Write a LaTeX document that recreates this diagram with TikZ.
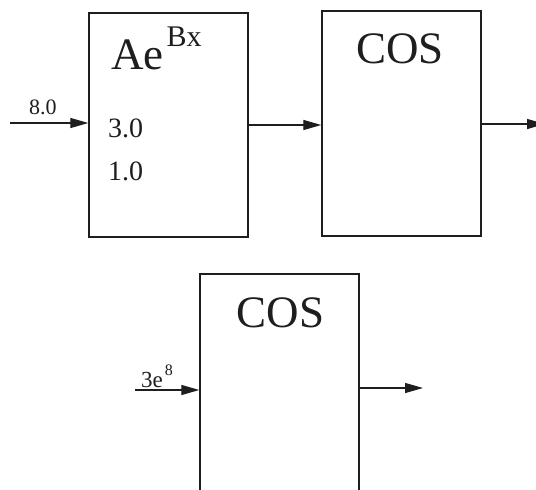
\documentclass[tikz,border=0pt]{standalone}
\usepackage{fontspec}
\setmainfont{Liberation Serif}
\usetikzlibrary{arrows.meta}
\definecolor{ink}{HTML}{1E1E1E}
\begin{document}
\begin{tikzpicture}[x=1pt,y=-1pt,
  blk/.style={draw=ink, line width=1.4pt, inner sep=0pt, minimum width=159pt},
  conn/.style={draw=ink, line width=1.3pt, -{Triangle[length=18pt,width=10pt]}},
  txt/.style={text=ink, inner sep=0pt, anchor=base west},
  big/.style={font=\fontsize{45}{45}\selectfont},
  mid/.style={font=\fontsize{28}{28}\selectfont},
  sml/.style={font=\fontsize{22}{22}\selectfont}]
\clip (0,0) rectangle (536,490);
\useasboundingbox (0,0) rectangle (536,490);
\fill[white] (0,0) rectangle (536,490);
% boxes
\node[blk, minimum height=224pt] (b1) at (168.5,125) {};
\node[blk, minimum height=225pt] (b2) at (401.5,123.5) {};
\node[blk, minimum height=232pt] (b3) at (279.5,390) {};
% texts
\node[txt, big] (lAe) at (111,69) {Ae\hspace{3pt}\raisebox{23pt}{\fontsize{30}{30}\selectfont Bx}};
\node[txt, mid] (l30) at (108,137) {3.0};
\node[txt, mid] (l10) at (108,180) {1.0};
\node[txt, big, anchor=base] (lc1) at (400,63) {COS};
\node[txt, big, anchor=base] (lc2) at (280.5,327) {COS};
\node[txt, sml] (l80) at (29,114) {8.0};
\node[txt, font=\fontsize{23}{23}\selectfont] (l3e) at (141,387) {3e\hspace{2pt}\raisebox{12pt}{\fontsize{16}{16}\selectfont 8}};
% connectors
\coordinate (in1) at (10,123);
\coordinate (out2) at (545,124);
\coordinate (in3) at (135,390);
\coordinate (out3) at (423,388);
\draw[conn] (in1) -- (in1 -| b1.west);
\draw[conn] (b1.east) -- (b1.east -| b2.west);
\draw[conn] (b2.east |- out2) -- (out2);
\draw[conn] (in3) -- (in3 -| b3.west);
\draw[conn] (b3.east |- out3) -- (out3);
\end{tikzpicture}
\end{document}
